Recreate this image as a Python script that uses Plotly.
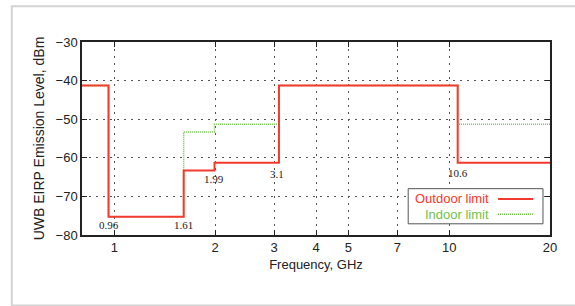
import math
import plotly.graph_objects as go

# Step limits (GHz, dBm)
outdoor_freq = [0.8, 0.96, 0.96, 1.61, 1.61, 1.99, 1.99, 3.1, 3.1, 10.6, 10.6, 20]
outdoor_level = [-41.3, -41.3, -75.3, -75.3, -63.3, -63.3, -61.3, -61.3, -41.3, -41.3, -61.3, -61.3]
indoor_freq = [0.8, 0.96, 0.96, 1.61, 1.61, 1.99, 1.99, 3.1, 3.1, 10.6, 10.6, 20]
indoor_level = [-41.3, -41.3, -75.3, -75.3, -53.3, -53.3, -51.3, -51.3, -41.3, -41.3, -51.3, -51.3]

label_freq = [0.96, 1.61, 1.99, 3.05, 10.6]
label_level = [-77.4, -77.4, -65.5, -64.3, -64.0]
label_text = ["0.96", "1.61", "1.99", "3.1", "10.6"]

x_ticks = [1, 2, 3, 4, 5, 7, 10, 20]
y_ticks = [-80, -70, -60, -50, -40, -30]

RED = "#f23a2e"
GREEN = "#72c24a"

fig = go.Figure()
fig.add_trace(go.Scatter(x=indoor_freq, y=indoor_level, mode="lines",
                         line=dict(color=GREEN, width=1.5, dash="1px,1px"),
                         name="Indoor limit", showlegend=False))
fig.add_trace(go.Scatter(x=outdoor_freq, y=outdoor_level, mode="lines",
                         line=dict(color=RED, width=2),
                         name="Outdoor limit", showlegend=False))

for xf, yl, t in zip(label_freq, label_level, label_text):
    fig.add_annotation(x=math.log10(xf), y=yl, xref="x", yref="y", text=t, showarrow=False,
                       borderpad=0,
                       font=dict(family="Liberation Serif", size=11, color="#222"))

axis_common = dict(showline=True, linecolor="#222", linewidth=1.5, mirror="ticks",
                   ticks="inside", ticklen=5, tickcolor="#222",
                   showgrid=True, gridcolor="#555", gridwidth=1, griddash="2px,5px",
                   zeroline=False,
                   tickfont=dict(family="Liberation Sans", size=13, color="#222"))

fig.update_xaxes(type="log", range=[-0.0969, 1.30103], tickvals=x_ticks,
                 ticktext=[str(v) for v in x_ticks],
                 title=dict(text="Frequency, GHz", standoff=6,
                            font=dict(family="Liberation Sans", size=13, color="#222")),
                 **axis_common)
fig.update_yaxes(range=[-80, -30], tickvals=y_ticks,
                 ticktext=["\u221280", "\u221270", "\u221260", "\u221250", "\u221240", "\u221230"],
                 title=dict(text="UWB EIRP Emission Level, dBm", standoff=8,
                            font=dict(family="Liberation Sans", size=14, color="#222")),
                 **axis_common)

# custom gnuplot-style legend
fig.add_shape(type="rect", xref="paper", yref="paper", x0=0.697, x1=0.985, y0=0.058, y1=0.240,
              line=dict(color="#555", width=1), fillcolor="white", layer="above")
fig.add_annotation(xref="paper", yref="paper", x=0.872, y=0.187, xanchor="right", yanchor="middle",
                   text="Outdoor limit", showarrow=False, borderpad=0,
                   font=dict(family="Liberation Sans", size=13, color=RED))
fig.add_annotation(xref="paper", yref="paper", x=0.872, y=0.108, xanchor="right", yanchor="middle",
                   text="Indoor limit", showarrow=False, borderpad=0,
                   font=dict(family="Liberation Sans", size=13, color=GREEN))
fig.add_shape(type="line", xref="paper", yref="paper", x0=0.889, x1=0.964, y0=0.187, y1=0.187,
              line=dict(color=RED, width=2), layer="above")
fig.add_shape(type="line", xref="paper", yref="paper", x0=0.889, x1=0.964, y0=0.108, y1=0.108,
              line=dict(color=GREEN, width=1.5, dash="1px,1px"), layer="above")

# outer frame
fig.add_shape(type="rect", xref="paper", yref="paper", x0=-0.150, x1=1.06, y0=-0.365, y1=1.185,
              line=dict(color="#d4d4d4", width=2), fillcolor="rgba(0,0,0,0)", layer="below")

fig.update_layout(width=575, height=306, margin=dict(l=82, r=25, t=42, b=71),
                  paper_bgcolor="white", plot_bgcolor="white", showlegend=False)

fig.write_html("out.html", config={"displayModeBar": False},
               post_script="document.body.style.margin='0';document.body.style.overflow='hidden';")
